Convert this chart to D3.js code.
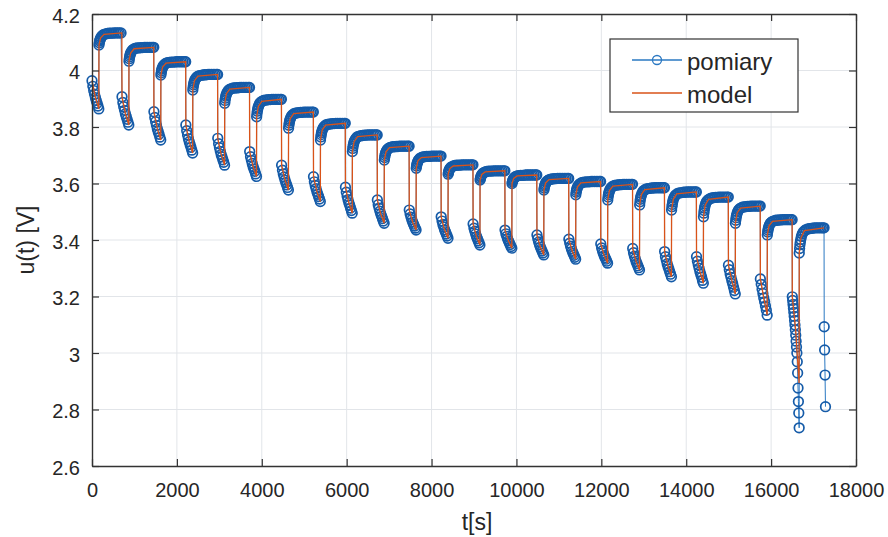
<!DOCTYPE html>
<html>
<head>
<meta charset="utf-8">
<script src="https://cdn.jsdelivr.net/npm/d3@7"></script>
<style>
  body { margin: 0; background: #ffffff; }
  svg { display: block; }
  text { font-family: "Liberation Sans", Arial, Helvetica, sans-serif; fill: #262626; }
</style>
</head>
<body>
<svg id="chart" width="888" height="537"></svg>
<script>
// ---- Pulse discharge test: measured voltage vs. model ----

// start time [s] of each discharge pulse (pulse 23 hits the cut-off)
const cycleStart = [0, 707, 1459, 2211, 2963, 3715, 4467, 5219, 5971, 6723, 7475, 8227,
  8979, 9731, 10483, 11235, 11987, 12739, 13491, 14243, 14995, 15747, 16499, 17251];

// sample times inside a pulse / a rest period, relative to their start [s]
const pulseOffsets = [0, 20, 40, 60, 80, 100, 120, 140, 160];
const restDelay = 164;
const restOffsets = [0, 8, 16, 25, 35, 50, 70, 95, 125, 160, 200, 240, 280, 320, 360, 400, 440, 480, 520, 560, 584];
const collapseOffsets = [0, 9, 18, 27, 36, 45, 54, 63, 72, 81, 90, 99, 108, 117, 126, 135, 144, 153, 162];
const cutoffOffsets = [0, 10, 20, 30];

// measured voltage during pulses 0..21 [V]
const pulseVolts = [
  [3.964, 3.944, 3.929, 3.916, 3.904, 3.894, 3.884, 3.874, 3.864],
  [3.907, 3.887, 3.872, 3.859, 3.847, 3.837, 3.827, 3.817, 3.807],
  [3.854, 3.834, 3.819, 3.806, 3.794, 3.784, 3.774, 3.764, 3.754],
  [3.807, 3.787, 3.772, 3.759, 3.748, 3.738, 3.728, 3.718, 3.708],
  [3.760, 3.741, 3.727, 3.714, 3.703, 3.694, 3.684, 3.675, 3.665],
  [3.713, 3.695, 3.682, 3.671, 3.660, 3.651, 3.643, 3.634, 3.625],
  [3.665, 3.647, 3.634, 3.623, 3.612, 3.603, 3.595, 3.586, 3.577],
  [3.624, 3.606, 3.593, 3.582, 3.571, 3.562, 3.554, 3.545, 3.536],
  [3.587, 3.569, 3.555, 3.543, 3.532, 3.523, 3.513, 3.504, 3.495],
  [3.542, 3.525, 3.513, 3.502, 3.492, 3.484, 3.476, 3.467, 3.459],
  [3.506, 3.492, 3.481, 3.472, 3.463, 3.456, 3.449, 3.442, 3.435],
  [3.482, 3.467, 3.455, 3.446, 3.436, 3.429, 3.421, 3.414, 3.406],
  [3.457, 3.442, 3.431, 3.421, 3.412, 3.405, 3.397, 3.390, 3.382],
  [3.435, 3.422, 3.413, 3.404, 3.397, 3.390, 3.384, 3.377, 3.371],
  [3.418, 3.404, 3.393, 3.384, 3.375, 3.368, 3.361, 3.354, 3.347],
  [3.403, 3.389, 3.378, 3.369, 3.360, 3.353, 3.346, 3.339, 3.332],
  [3.386, 3.372, 3.362, 3.353, 3.345, 3.338, 3.332, 3.325, 3.318],
  [3.370, 3.355, 3.343, 3.334, 3.324, 3.317, 3.309, 3.302, 3.294],
  [3.359, 3.341, 3.328, 3.316, 3.306, 3.297, 3.288, 3.279, 3.270],
  [3.341, 3.325, 3.312, 3.300, 3.288, 3.278, 3.268, 3.257, 3.247],
  [3.311, 3.295, 3.280, 3.268, 3.256, 3.245, 3.233, 3.221, 3.209],
  [3.262, 3.243, 3.226, 3.211, 3.195, 3.181, 3.166, 3.151, 3.134]
];
// pulse 22: voltage collapse near the end of discharge
const collapseVolts = [3.199, 3.186, 3.172, 3.158, 3.144, 3.130, 3.115, 3.099, 3.082, 3.063,
  3.042, 3.021, 3.000, 2.969, 2.929, 2.876, 2.828, 2.788, 2.735];
// pulse 23: stopped at the cut-off voltage
const cutoffVolts = [3.093, 3.011, 2.922, 2.810];

// measured voltage during the rest after each pulse [V]
const restVolts = [
  [4.090, 4.098, 4.104, 4.109, 4.113, 4.118, 4.122, 4.126, 4.128, 4.130, 4.131, 4.132, 4.132, 4.132, 4.133, 4.133, 4.133, 4.133, 4.133, 4.133, 4.133],
  [4.033, 4.042, 4.049, 4.055, 4.060, 4.065, 4.070, 4.074, 4.077, 4.079, 4.080, 4.080, 4.081, 4.081, 4.082, 4.082, 4.082, 4.082, 4.082, 4.082, 4.082],
  [3.984, 3.992, 3.999, 4.005, 4.009, 4.015, 4.019, 4.023, 4.026, 4.028, 4.029, 4.030, 4.030, 4.030, 4.031, 4.031, 4.031, 4.031, 4.031, 4.031, 4.031],
  [3.931, 3.941, 3.949, 3.955, 3.961, 3.967, 3.972, 3.977, 3.980, 3.982, 3.983, 3.984, 3.985, 3.985, 3.986, 3.986, 3.986, 3.986, 3.986, 3.986, 3.986],
  [3.884, 3.894, 3.902, 3.909, 3.914, 3.920, 3.926, 3.931, 3.934, 3.936, 3.938, 3.938, 3.939, 3.939, 3.940, 3.940, 3.940, 3.940, 3.940, 3.940, 3.940],
  [3.836, 3.847, 3.856, 3.863, 3.870, 3.876, 3.883, 3.888, 3.891, 3.894, 3.895, 3.896, 3.897, 3.897, 3.898, 3.898, 3.898, 3.898, 3.898, 3.898, 3.898],
  [3.796, 3.806, 3.814, 3.821, 3.827, 3.833, 3.839, 3.843, 3.847, 3.849, 3.850, 3.851, 3.852, 3.852, 3.853, 3.853, 3.853, 3.853, 3.853, 3.853, 3.853],
  [3.754, 3.765, 3.773, 3.780, 3.786, 3.792, 3.798, 3.803, 3.807, 3.809, 3.810, 3.811, 3.812, 3.812, 3.813, 3.813, 3.813, 3.813, 3.813, 3.813, 3.813],
  [3.713, 3.724, 3.732, 3.739, 3.745, 3.751, 3.757, 3.762, 3.766, 3.768, 3.769, 3.770, 3.771, 3.771, 3.772, 3.772, 3.772, 3.772, 3.772, 3.772, 3.772],
  [3.683, 3.692, 3.699, 3.705, 3.710, 3.715, 3.720, 3.724, 3.727, 3.729, 3.730, 3.730, 3.731, 3.731, 3.732, 3.732, 3.732, 3.732, 3.732, 3.732, 3.732],
  [3.654, 3.662, 3.668, 3.673, 3.677, 3.682, 3.686, 3.690, 3.692, 3.694, 3.695, 3.696, 3.696, 3.696, 3.697, 3.697, 3.697, 3.697, 3.697, 3.697, 3.697],
  [3.633, 3.639, 3.644, 3.647, 3.651, 3.654, 3.658, 3.660, 3.662, 3.664, 3.665, 3.665, 3.665, 3.666, 3.666, 3.666, 3.666, 3.666, 3.666, 3.666, 3.666],
  [3.612, 3.618, 3.623, 3.626, 3.630, 3.633, 3.637, 3.639, 3.641, 3.643, 3.644, 3.644, 3.644, 3.645, 3.645, 3.645, 3.645, 3.645, 3.645, 3.645, 3.645],
  [3.600, 3.605, 3.610, 3.613, 3.616, 3.620, 3.623, 3.625, 3.627, 3.628, 3.629, 3.629, 3.629, 3.630, 3.630, 3.630, 3.630, 3.630, 3.630, 3.630, 3.630],
  [3.577, 3.584, 3.590, 3.595, 3.599, 3.604, 3.608, 3.611, 3.614, 3.615, 3.616, 3.617, 3.617, 3.618, 3.618, 3.618, 3.618, 3.618, 3.618, 3.618, 3.618],
  [3.560, 3.569, 3.575, 3.581, 3.585, 3.591, 3.595, 3.599, 3.602, 3.604, 3.605, 3.606, 3.606, 3.606, 3.607, 3.607, 3.607, 3.607, 3.607, 3.607, 3.607],
  [3.542, 3.552, 3.560, 3.566, 3.572, 3.578, 3.583, 3.588, 3.591, 3.593, 3.594, 3.595, 3.596, 3.596, 3.597, 3.597, 3.597, 3.597, 3.597, 3.597, 3.597],
  [3.524, 3.535, 3.544, 3.551, 3.557, 3.564, 3.570, 3.575, 3.578, 3.581, 3.582, 3.583, 3.584, 3.584, 3.585, 3.585, 3.585, 3.585, 3.585, 3.585, 3.585],
  [3.506, 3.518, 3.526, 3.534, 3.541, 3.548, 3.554, 3.559, 3.563, 3.566, 3.567, 3.568, 3.569, 3.569, 3.570, 3.570, 3.570, 3.570, 3.570, 3.570, 3.570],
  [3.482, 3.495, 3.504, 3.513, 3.520, 3.528, 3.535, 3.540, 3.544, 3.547, 3.549, 3.550, 3.551, 3.551, 3.552, 3.552, 3.552, 3.552, 3.552, 3.552, 3.552],
  [3.459, 3.470, 3.479, 3.486, 3.492, 3.499, 3.505, 3.510, 3.513, 3.516, 3.517, 3.518, 3.519, 3.519, 3.520, 3.520, 3.520, 3.520, 3.520, 3.520, 3.520],
  [3.418, 3.428, 3.435, 3.442, 3.447, 3.453, 3.459, 3.463, 3.466, 3.468, 3.470, 3.470, 3.471, 3.471, 3.472, 3.472, 3.472, 3.472, 3.472, 3.472, 3.472],
  [3.354, 3.370, 3.383, 3.393, 3.402, 3.412, 3.421, 3.428, 3.433, 3.437, 3.439, 3.440, 3.441, 3.442, 3.443, 3.443, 3.443, 3.443, 3.443, 3.443, 3.443]
];

// model output: pulse [start, mid, end] and rest [start, +40 s, +120 s, end] [V]
const modelPulseOffsets = [0, 80, 160];
const modelRestOffsets = [0, 40, 120];
const modelPulseVolts = [
  [3.964, 3.904, 3.864], [3.907, 3.847, 3.807], [3.854, 3.794, 3.754], [3.807, 3.748, 3.708],
  [3.760, 3.703, 3.665], [3.713, 3.660, 3.625], [3.665, 3.612, 3.577], [3.624, 3.571, 3.536],
  [3.587, 3.532, 3.495], [3.542, 3.492, 3.459], [3.506, 3.463, 3.435], [3.482, 3.436, 3.406],
  [3.457, 3.412, 3.382], [3.435, 3.397, 3.371], [3.418, 3.375, 3.347], [3.403, 3.360, 3.332],
  [3.386, 3.345, 3.318], [3.370, 3.324, 3.294], [3.359, 3.306, 3.270], [3.341, 3.288, 3.247],
  [3.311, 3.256, 3.209], [3.262, 3.195, 3.134], [3.199, 3.080, 2.894]
];
const modelRestVolts = [
  [4.090, 4.116, 4.128, 4.133], [4.033, 4.062, 4.077, 4.082], [3.984, 4.012, 4.026, 4.031],
  [3.931, 3.964, 3.980, 3.986], [3.884, 3.918, 3.934, 3.940], [3.836, 3.873, 3.891, 3.898],
  [3.796, 3.830, 3.847, 3.853], [3.754, 3.789, 3.807, 3.813], [3.713, 3.748, 3.766, 3.772],
  [3.683, 3.712, 3.727, 3.732], [3.654, 3.680, 3.692, 3.697], [3.633, 3.653, 3.662, 3.666],
  [3.612, 3.632, 3.641, 3.645], [3.600, 3.618, 3.627, 3.630], [3.577, 3.602, 3.614, 3.618],
  [3.560, 3.588, 3.602, 3.607], [3.542, 3.575, 3.591, 3.597], [3.524, 3.561, 3.578, 3.585],
  [3.506, 3.544, 3.563, 3.570], [3.482, 3.524, 3.544, 3.552], [3.459, 3.496, 3.513, 3.520],
  [3.418, 3.450, 3.466, 3.472], [3.354, 3.407, 3.433, 3.443]
];

// axes
const xTicks = [0, 2000, 4000, 6000, 8000, 10000, 12000, 14000, 16000, 18000];
const yTicks = [2.6, 2.8, 3.0, 3.2, 3.4, 3.6, 3.8, 4.0, 4.2];
const yTickLabels = ["2.6", "2.8", "3", "3.2", "3.4", "3.6", "3.8", "4", "4.2"];
const seriesNames = ["pomiary", "model"];

const BLUE = "#155ba8", LINEBLUE = "#2a78c2", RED = "#d95319", INK = "#262626";
const plotL = 92, plotR = 856, plotT = 14, plotB = 466;

const svg = d3.select("#chart");
const x = d3.scaleLinear().domain([0, 18000]).range([plotL, plotR]);
const y = d3.scaleLinear().domain([2.6, 4.2]).range([plotB, plotT]);

// grid
const grid = svg.append("g").attr("stroke", "#e2e5e9").attr("stroke-width", 1);
grid.selectAll("line.gx").data(xTicks.slice(1, -1)).join("line")
  .attr("x1", d => x(d)).attr("x2", d => x(d)).attr("y1", plotT).attr("y2", plotB);
grid.selectAll("line.gy").data(yTicks.slice(1, -1)).join("line")
  .attr("y1", d => y(d)).attr("y2", d => y(d)).attr("x1", plotL).attr("x2", plotR);

// build the measured series
const measured = [];
for (let k = 0; k < restVolts.length; k++) {
  const offs = k < pulseVolts.length ? pulseOffsets : collapseOffsets;
  const volts = k < pulseVolts.length ? pulseVolts[k] : collapseVolts;
  offs.forEach((o, i) => measured.push({ t: cycleStart[k] + o, v: volts[i] }));
  const rs = cycleStart[k] + restDelay, re = cycleStart[k + 1] - 4;
  restOffsets.forEach((o, i) => { if (rs + o <= re) measured.push({ t: rs + o, v: restVolts[k][i] }); });
}
cutoffOffsets.forEach((o, i) => measured.push({ t: cycleStart[cycleStart.length - 1] + o, v: cutoffVolts[i] }));

// build the model series
const model = [];
for (let k = 0; k < modelRestVolts.length; k++) {
  modelPulseOffsets.forEach((o, i) => model.push({ t: cycleStart[k] + o, v: modelPulseVolts[k][i] }));
  const rs = cycleStart[k] + restDelay, re = cycleStart[k + 1] - 4;
  modelRestOffsets.forEach((o, i) => model.push({ t: rs + o, v: modelRestVolts[k][i] }));
  model.push({ t: re, v: modelRestVolts[k][3] });
}

const line = d3.line().x(d => x(d.t)).y(d => y(d.v));

svg.append("path").datum(measured).attr("d", line)
  .attr("fill", "none").attr("stroke", LINEBLUE).attr("stroke-width", 1);
svg.append("g").selectAll("circle").data(measured).join("circle")
  .attr("cx", d => x(d.t)).attr("cy", d => y(d.v)).attr("r", 4.8)
  .attr("fill", "none").attr("stroke", BLUE).attr("stroke-width", 1.7);
svg.append("path").datum(model).attr("d", line)
  .attr("fill", "none").attr("stroke", RED).attr("stroke-width", 1.3);

// axes (ticks point inward, box on all four sides)
function styleAxis(g) {
  g.select(".domain").attr("stroke", "#333").attr("stroke-width", 1.4);
  g.selectAll(".tick line").attr("stroke", "#333").attr("stroke-width", 1.2);
  g.selectAll(".tick text").attr("fill", INK).style("font-size", "20px")
    .style("font-family", '"Liberation Sans", Arial, sans-serif');
}
svg.append("g").attr("transform", `translate(0,${plotB})`)
  .call(d3.axisBottom(x).tickValues(xTicks).tickFormat(d3.format("d"))
    .tickSizeInner(-7).tickSizeOuter(0).tickPadding(17))
  .call(styleAxis);
svg.append("g").attr("transform", `translate(${plotL},0)`)
  .call(d3.axisLeft(y).tickValues(yTicks).tickFormat((d, i) => yTickLabels[i])
    .tickSizeInner(-7).tickSizeOuter(0).tickPadding(12))
  .call(styleAxis)
  .selectAll(".tick text").attr("dy", "0.4em");
svg.append("g").attr("transform", `translate(0,${plotT})`)
  .call(d3.axisTop(x).tickValues(xTicks).tickFormat("").tickSizeInner(-7).tickSizeOuter(0))
  .call(styleAxis);
svg.append("g").attr("transform", `translate(${plotR},0)`)
  .call(d3.axisRight(y).tickValues(yTicks).tickFormat("").tickSizeInner(-7).tickSizeOuter(0))
  .call(styleAxis);

// axis labels
svg.append("text").attr("x", 477).attr("y", 530).attr("text-anchor", "middle")
  .style("font-size", "23px").text("t[s]");
svg.append("text").attr("transform", "translate(34,240) rotate(-90)").attr("text-anchor", "middle")
  .style("font-size", "23px").text("u(t) [V]");

// legend
const lg = svg.append("g");
lg.append("rect").attr("x", 610).attr("y", 39).attr("width", 188).attr("height", 73)
  .attr("fill", "#fff").attr("stroke", "#333").attr("stroke-width", 1.2);
const rows = [{ name: seriesNames[0], color: LINEBLUE, y: 60, marker: true },
              { name: seriesNames[1], color: RED, y: 93, marker: false }];
rows.forEach(r => {
  lg.append("line").attr("x1", 632).attr("x2", 682).attr("y1", r.y).attr("y2", r.y)
    .attr("stroke", r.color).attr("stroke-width", 1.3);
  if (r.marker) lg.append("circle").attr("cx", 657).attr("cy", r.y).attr("r", 4.5)
    .attr("fill", "none").attr("stroke", r.color).attr("stroke-width", 1.3);
  lg.append("text").attr("x", 687).attr("y", r.y + 10).style("font-size", "24px").text(r.name);
});
</script>
</body>
</html>
